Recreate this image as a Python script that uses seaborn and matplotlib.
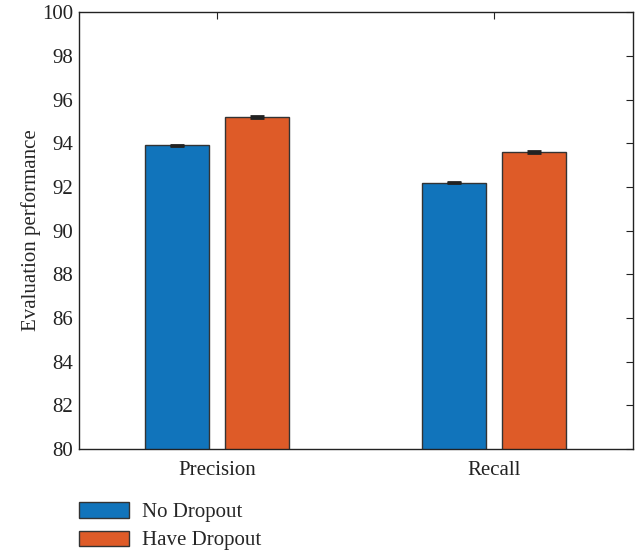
import pandas as pd
import numpy as np
import matplotlib.pyplot as plt
import seaborn as sns

# ----------------------------- DATA -----------------------------
categories = ["Precision", "Recall"]
series_names = ["No Dropout", "Have Dropout"]
no_dropout = [93.9, 92.2]
have_dropout = [95.2, 93.6]
no_dropout_err = [0.03, 0.03]
have_dropout_err = [0.03, 0.03]
y_ticks = [80, 82, 84, 86, 88, 90, 92, 94, 96, 98, 100]

COLORS = ["#1174BB", "#DE5B28"]

# ----------------------------- TABLE -----------------------------
df = pd.DataFrame({
    "metric": categories * 2,
    "model": [series_names[0]] * len(categories) + [series_names[1]] * len(categories),
    "value": no_dropout + have_dropout,
})
errs = no_dropout_err + have_dropout_err

# ----------------------------- PLOT -----------------------------
sns.set_style("white")
plt.rcParams["font.family"] = ["Liberation Serif", "DejaVu Serif"]
FS = 15

fig = plt.figure(figsize=(6.38, 5.52), dpi=100)
ax = fig.add_axes([0.1238, 0.1866, 0.8682, 0.7914])

sns.barplot(data=df, x="metric", y="value", hue="model", order=categories,
            hue_order=series_names, palette=COLORS, saturation=1,
            width=0.578, gap=0.2, errorbar=None,
            edgecolor="#333333", linewidth=1.0, ax=ax)

# error bars on the bar centres
bars = [p for p in ax.patches if p.get_height() > 0][:len(df)]
for bar, val, e in zip(bars, df["value"], errs):
    cx = bar.get_x() + bar.get_width() / 2
    ax.errorbar(cx, val, yerr=e, fmt="none", ecolor="#222222",
                elinewidth=1.0, capsize=5, capthick=2.0)

ax.set_ylim(80, 100)
ax.set_xlim(-0.5, 1.5)
ax.set_yticks(y_ticks)
ax.set_xlabel("")
ax.set_ylabel("Evaluation performance", fontsize=FS, labelpad=1)
ax.tick_params(axis="both", labelsize=FS, direction="in", length=5,
               width=0.8, color="#222222", labelcolor="#222222",
               top=True, right=True)
ax.tick_params(axis="x", pad=9)
ax.tick_params(axis="y", pad=4)
for s in ax.spines.values():
    s.set_visible(True)
    s.set_color("#222222")
    s.set_linewidth(1.0)

ax.legend_.remove()
handles = [plt.Rectangle((0, 0), 1, 1, facecolor=c, edgecolor="#333333", linewidth=1.0)
           for c in COLORS]
fig.legend(handles, series_names, loc="upper left", bbox_to_anchor=(0.111, 0.105),
           frameon=False, fontsize=FS, handlelength=2.4, handleheight=0.75,
           handletextpad=0.6, labelspacing=0.4, borderaxespad=0)

fig.savefig("out.png", dpi=100)
